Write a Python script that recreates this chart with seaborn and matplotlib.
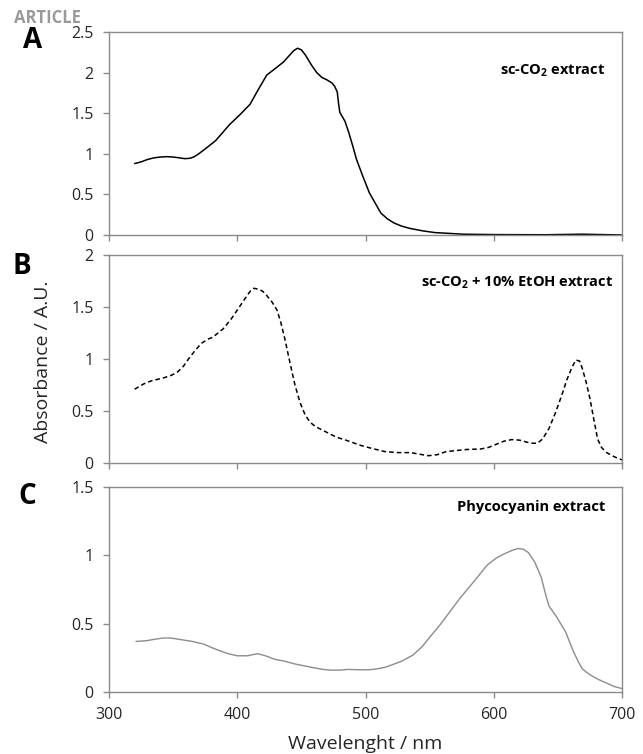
import numpy as np
import pandas as pd
import matplotlib
matplotlib.use("Agg")
import matplotlib.pyplot as plt
import seaborn as sns

# Panel A - sc-CO2 extract (solid black)
wl_a = [320, 325, 330, 335, 340, 345, 350, 355, 359, 363, 366, 370, 375, 383,
        388, 394, 402, 410, 416, 423, 428, 432, 436, 440, 444, 447, 450, 453,
        458, 462, 466, 470, 474, 476, 478, 479, 480, 484, 487, 490, 493, 498,
        503, 508, 512, 517, 522, 528, 535, 545, 554, 565, 576, 600, 640, 669,
        700]
abs_a = [0.88, 0.90, 0.93, 0.95, 0.96, 0.965, 0.96, 0.95, 0.94, 0.945, 0.96,
         1.00, 1.06, 1.16, 1.25, 1.36, 1.48, 1.61, 1.78, 1.97, 2.03, 2.08, 2.13,
         2.20, 2.27, 2.30, 2.28, 2.22, 2.09, 2.00, 1.94, 1.91, 1.87, 1.83, 1.76,
         1.62, 1.51, 1.40, 1.26, 1.10, 0.93, 0.72, 0.52, 0.38, 0.27, 0.20, 0.15,
         0.11, 0.08, 0.05, 0.03, 0.02, 0.01, 0.005, 0.003, 0.01, 0.0]

# Panel B - sc-CO2 + 10% EtOH extract (dashed)
wl_b = [320, 327, 333, 343, 348, 353, 358, 362, 367, 372, 377, 381, 385, 389,
        395, 400, 406, 410, 413, 417, 420, 423, 427, 431, 434, 437, 441, 445,
        449, 453, 457, 461, 469, 477, 487, 496, 505, 515, 525, 535, 542, 549,
        556, 563, 571, 579, 590, 596, 602, 608, 614, 620, 626, 630, 634, 638,
        643, 648, 653, 657, 661, 664, 667, 669, 672, 675, 678, 681, 684, 688,
        694, 700]
abs_b = [0.71, 0.76, 0.79, 0.82, 0.84, 0.87, 0.93, 1.00, 1.08, 1.15, 1.19, 1.21,
         1.25, 1.29, 1.38, 1.47, 1.58, 1.65, 1.68, 1.67, 1.65, 1.61, 1.55, 1.47,
         1.35, 1.20, 0.97, 0.75, 0.58, 0.46, 0.39, 0.35, 0.30, 0.25, 0.21, 0.17,
         0.14, 0.11, 0.10, 0.10, 0.085, 0.07, 0.08, 0.11, 0.12, 0.13, 0.135,
         0.15, 0.18, 0.21, 0.225, 0.22, 0.20, 0.19, 0.19, 0.23, 0.33, 0.48, 0.65,
         0.80, 0.92, 0.99, 0.98, 0.91, 0.78, 0.62, 0.42, 0.23, 0.15, 0.10, 0.06,
         0.03]

# Panel C - Phycocyanin extract (grey)
wl_c = [321, 329, 335, 342, 348, 355, 365, 374, 380, 387, 393, 400, 408, 413,
        416, 422, 429, 437, 445, 453, 461, 467, 473, 480, 486, 494, 502, 508,
        515, 521, 528, 537, 544, 550, 558, 566, 574, 582, 589, 595, 602, 608,
        614, 619, 623, 627, 632, 637, 640, 643, 649, 656, 662, 666, 669, 673,
        677, 682, 688, 694, 700]
abs_c = [0.37, 0.375, 0.385, 0.395, 0.395, 0.385, 0.37, 0.35, 0.325, 0.30,
         0.28, 0.265, 0.265, 0.275, 0.28, 0.265, 0.24, 0.225, 0.205, 0.19, 0.175,
         0.165, 0.16, 0.16, 0.165, 0.163, 0.162, 0.168, 0.18, 0.20, 0.225, 0.27,
         0.33, 0.40, 0.49, 0.59, 0.69, 0.78, 0.86, 0.93, 0.98, 1.01, 1.035, 1.05,
         1.045, 1.02, 0.95, 0.84, 0.73, 0.63, 0.55, 0.44, 0.30, 0.22, 0.17,
         0.14, 0.115, 0.09, 0.065, 0.04, 0.025]

panel_labels = ["A", "B", "C"]
panel_titles = ["sc-CO$_\\mathbf{2}$ extract",
                "sc-CO$_\\mathbf{2}$ + 10% EtOH extract",
                "Phycocyanin extract"]
y_limits = [2.5, 2.0, 1.5]
y_ticks = [[0, 0.5, 1, 1.5, 2, 2.5], [0, 0.5, 1, 1.5, 2], [0, 0.5, 1, 1.5]]
x_ticks = [300, 400, 500, 600, 700]

sns.set_theme(style="ticks")
plt.rcParams['font.family'] = ['Open Sans', 'DejaVu Sans']
plt.rcParams['mathtext.fontset'] = 'custom'
plt.rcParams['mathtext.rm'] = 'Open Sans'
plt.rcParams['mathtext.bf'] = 'Open Sans:bold'

spine_col = '#8a8a8a'
text_col = '#262626'

fig = plt.figure(figsize=(6.43, 7.54), dpi=100)
left, width = 109 / 643, 513 / 643
boxes = [(32, 235), (255, 463), (487, 692)]  # top, bottom in pixels

frames = [
    pd.DataFrame({'wl': wl_a, 'abs': abs_a}),
    pd.DataFrame({'wl': wl_b, 'abs': abs_b}),
    pd.DataFrame({'wl': wl_c, 'abs': abs_c}),
]
styles = [
    dict(color='black', linewidth=1.1),
    dict(color='black', linewidth=1.1, dashes=(3, 2)),
    dict(color='#8c8c8c', linewidth=1.0),
]
title_pos = [(0.967, 0.81), (0.983, 0.865), (0.967, 0.90)]
letter_pos = [(33, 41), (22, 267), (27, 497)]

for i, (top, bot) in enumerate(boxes):
    ax = fig.add_axes([left, 1 - bot / 754, width, (bot - top) / 754])
    df = frames[i]
    st = dict(styles[i])
    dashes = st.pop('dashes', None)
    sns.lineplot(data=df, x='wl', y='abs', ax=ax, sort=False,
                 estimator=None, **st)
    if dashes is not None:
        ax.lines[0].set_dashes(dashes)
    ax.set_xlim(300, 700)
    ax.set_ylim(0, y_limits[i])
    ax.set_xticks(x_ticks)
    ax.set_yticks(y_ticks[i])
    ax.set_yticklabels([f"{t:g}" for t in y_ticks[i]])
    ax.set_xlabel('')
    ax.set_ylabel('')
    for sp in ax.spines.values():
        sp.set_visible(True)
        sp.set_color(spine_col)
        sp.set_linewidth(1.0)
    ax.tick_params(axis='both', direction='out', length=4, width=1.0,
                   color=spine_col, labelsize=11.5, labelcolor=text_col, pad=7)
    if i < 2:
        ax.tick_params(axis='x', labelbottom=False)
    ax.text(title_pos[i][0], title_pos[i][1], panel_titles[i],
            transform=ax.transAxes, ha='right', va='center',
            fontsize=10.5, fontweight='bold', color='black')
    fig.text(letter_pos[i][0] / 643, 1 - letter_pos[i][1] / 754, panel_labels[i],
             ha='center', va='center', fontsize=20, fontweight='bold', color='black')

fig.text(14 / 643, 1 - 18 / 754, 'ARTICLE', ha='left', va='center',
         fontsize=12, fontweight='bold', color='#9a9a9a', zorder=0)
fig.text(43 / 643, 1 - 362 / 754, 'Absorbance / A.U.', rotation=90,
         ha='center', va='center', fontsize=14, color=text_col)
fig.text(365 / 643, 1 - 744 / 754, 'Wavelenght / nm', ha='center', va='center',
         fontsize=14, color=text_col)

fig.savefig('out.png', dpi=100)
